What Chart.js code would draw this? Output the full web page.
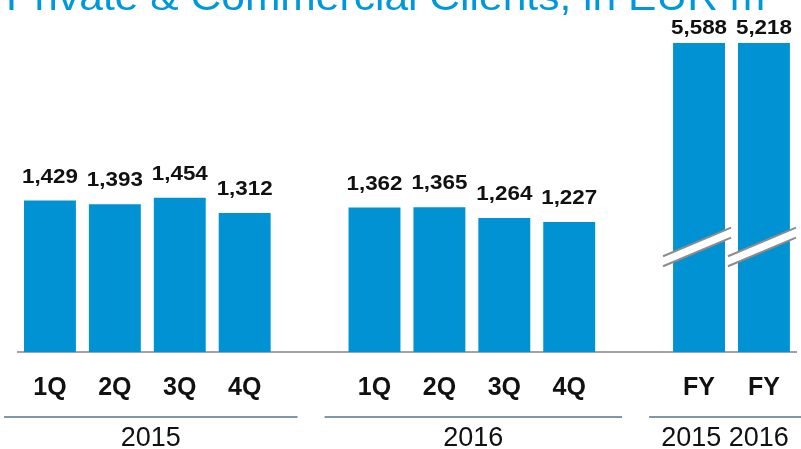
<!DOCTYPE html>
<html lang="en">
<head>
    <meta charset="UTF-8">
    <title>Private & Commercial Clients, in EUR m</title>
    <script src="https://cdnjs.cloudflare.com/ajax/libs/Chart.js/4.4.1/chart.umd.min.js"></script>
    <style>
        body { margin: 0; background: #fff; }
        .wrap { position: relative; width: 801px; height: 449px; }
    </style>
</head>
<body>
    <div class="wrap"><canvas id="pccChart" width="801" height="449"></canvas></div>

    <script>
        // data
        const categories = ['1Q', '2Q', '3Q', '4Q', '', '1Q', '2Q', '3Q', '4Q', '', 'FY', 'FY'];
        const values = [1429, 1393, 1454, 1312, null, 1362, 1365, 1264, 1227, null, 5588, 5218];
        const groupLabels = ['2015', '2016', '2015 2016'];
        const groupStart = [0, 5, 10];
        const groupEnd = [3, 8, 11];
        const brokenBars = [10, 11];   // FY bars drawn with an axis break
        const axisMax = 2915;
        const titleText = 'Private & Commercial Clients, in EUR m';

        const FONT = '"Liberation Sans", Arial, sans-serif';
        const BLUE = '#0092d2';

        function stretchText(ctx, text, x, y, sx) {
            ctx.save();
            ctx.translate(x, y);
            ctx.scale(sx, 1);
            ctx.fillText(text, 0, 0);
            ctx.restore();
        }

        const decorations = {
            id: 'decorations',
            afterDatasetsDraw(chart) {
                const ctx = chart.ctx;
                const area = chart.chartArea;
                const meta = chart.getDatasetMeta(0);

                // axis break marks on the FY bars
                brokenBars.forEach(i => {
                    const bar = meta.data[i];
                    const cx = bar.x - 2;
                    const cy = area.top + (area.bottom - area.top) * 0.66;
                    const half = 34, slope = 0.42, gap = 5;
                    ctx.save();
                    ctx.fillStyle = '#fff';
                    ctx.beginPath();
                    ctx.moveTo(cx - half, cy + half * slope - gap);
                    ctx.lineTo(cx + half, cy - half * slope - gap);
                    ctx.lineTo(cx + half, cy - half * slope + gap);
                    ctx.lineTo(cx - half, cy + half * slope + gap);
                    ctx.closePath();
                    ctx.fill();
                    ctx.strokeStyle = '#8c8c8c';
                    ctx.lineWidth = 2;
                    ctx.beginPath();
                    ctx.moveTo(cx - half, cy + half * slope - gap);
                    ctx.lineTo(cx + half, cy - half * slope - gap);
                    ctx.moveTo(cx - half, cy + half * slope + gap);
                    ctx.lineTo(cx + half, cy - half * slope + gap);
                    ctx.stroke();
                    ctx.restore();
                });

                // value labels
                ctx.save();
                ctx.fillStyle = '#111';
                ctx.font = 'bold 20px ' + FONT;
                ctx.textAlign = 'center';
                ctx.textBaseline = 'alphabetic';
                meta.data.forEach((bar, i) => {
                    if (values[i] == null) return;
                    const y = bar.y < area.top ? area.top - 9 : bar.y - 18;
                    stretchText(ctx, values[i].toLocaleString('en-US'), bar.x, y, 1.12);
                });
                ctx.restore();
            },
            afterDraw(chart) {
                const ctx = chart.ctx;
                const x = chart.scales.x;

                // title, cut off at the top edge
                ctx.save();
                ctx.fillStyle = '#0098db';
                ctx.font = '38px ' + FONT;
                ctx.textAlign = 'left';
                ctx.textBaseline = 'alphabetic';
                stretchText(ctx, titleText, 6, 10, 1.12);
                ctx.restore();

                // group lines and year labels
                ctx.save();
                ctx.strokeStyle = '#7f97a8';
                ctx.lineWidth = 2;
                ctx.fillStyle = '#111';
                ctx.font = '27px ' + FONT;
                ctx.textAlign = 'center';
                ctx.textBaseline = 'alphabetic';
                groupLabels.forEach((label, g) => {
                    const left = g === 0 ? 4 : x.getPixelForValue(groupStart[g] - 1) + 15;
                    const right = g === groupLabels.length - 1 ? chart.width : x.getPixelForValue(groupEnd[g] + 1) - 12;
                    ctx.beginPath();
                    ctx.moveTo(left, 417);
                    ctx.lineTo(right, 417);
                    ctx.stroke();
                    ctx.fillText(label, (left + right) / 2, 446);
                });
                ctx.restore();
            }
        };

        const ctx = document.getElementById('pccChart').getContext('2d');
        const pccChart = new Chart(ctx, {
            type: 'bar',
            data: {
                labels: categories,
                datasets: [{
                    data: values,
                    backgroundColor: BLUE,
                    categoryPercentage: 1,
                    barPercentage: 0.8,
                    clip: 0
                }]
            },
            options: {
                responsive: false,
                animation: false,
                layout: { padding: { top: 43, left: 17.5, right: 4.6, bottom: 33 } },
                plugins: { legend: { display: false }, tooltip: { enabled: false } },
                scales: {
                    x: {
                        grid: { display: false },
                        border: { display: true, color: '#a3a3a3', width: 2 },
                        ticks: {
                            color: '#111',
                            font: { family: FONT, size: 25, weight: 'bold' },
                            padding: 13,
                            autoSkip: false,
                            maxRotation: 0
                        }
                    },
                    y: { display: false, min: 0, max: axisMax }
                }
            },
            plugins: [decorations]
        });
    </script>
</body>
</html>
